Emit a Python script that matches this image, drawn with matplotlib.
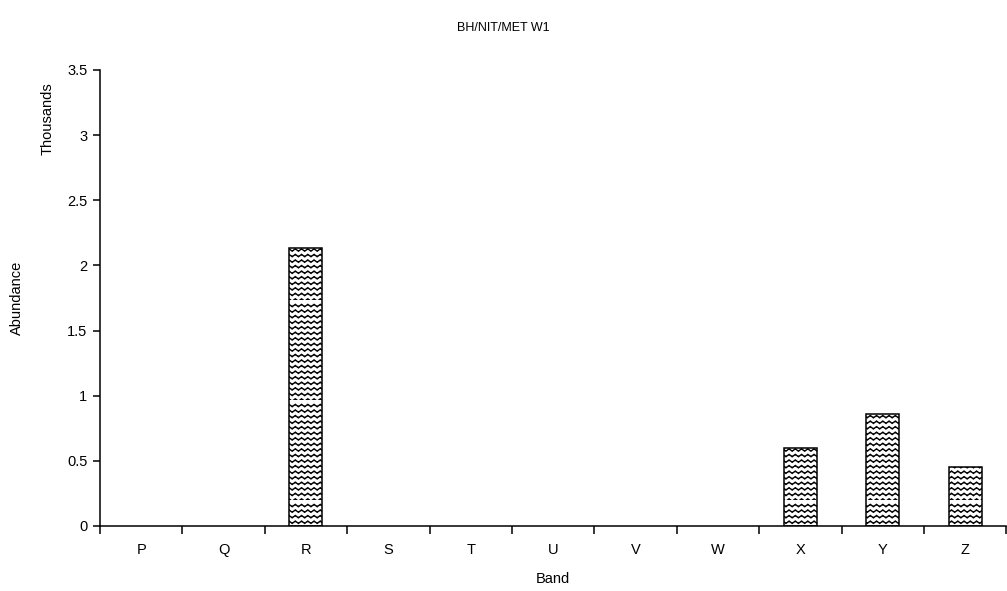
import warnings
import numpy as np
import matplotlib
matplotlib.use('Agg')
import matplotlib.pyplot as plt
import matplotlib.hatch as mhatch
from matplotlib.path import Path

warnings.filterwarnings('ignore')

plt.rcParams['font.family'] = ['Liberation Sans', 'DejaVu Sans']
plt.rcParams['hatch.linewidth'] = 1.0
plt.rcParams['hatch.color'] = '#333333'

bands = ['P', 'Q', 'R', 'S', 'T', 'U', 'V', 'W', 'X', 'Y', 'Z']
abundance = [0, 0, 2.13, 0, 0, 0, 0, 0, 0.60, 0.86, 0.45]  # thousands
yticks = [0, 0.5, 1, 1.5, 2, 2.5, 3, 3.5]
ytick_labels = ['0', '0.5', '1', '1.5', '2', '2.5', '3', '3.5']


class WaveHatch(mhatch.HatchPatternBase):
    """wavy horizontal lines, used with '~'"""
    def __init__(self, hatch, density):
        self.num_lines = int(hatch.count('~') * density)
        self.n_seg = 64
        self.num_vertices = self.num_lines * (self.n_seg + 1)

    def set_vertices_and_codes(self, vertices, codes):
        n = self.n_seg + 1
        xs = np.linspace(0, 1, n)
        for i, y0 in enumerate(np.linspace(0, 1, self.num_lines, endpoint=False)):
            vertices[i * n:(i + 1) * n, 0] = xs
            vertices[i * n:(i + 1) * n, 1] = y0 + 0.012 * np.sin(2 * np.pi * 16 * xs)
            codes[i * n] = Path.MOVETO
            codes[i * n + 1:(i + 1) * n] = Path.LINETO


mhatch._hatch_types.append(WaveHatch)

fig = plt.figure(figsize=(10.07, 5.91), dpi=100)
ax = fig.add_axes([0.0993, 0.110, 0.900, 0.7716])

x = np.arange(len(bands))
heights = np.array(abundance)
shown = heights > 0
ax.bar(x[shown], heights[shown], width=0.4, color='white', edgecolor='black',
       linewidth=1.1, hatch='~~~', zorder=2)

ax.set_xlim(-0.5, len(bands) - 0.5)
ax.set_ylim(0, 3.5)
ax.spines['top'].set_visible(False)
ax.spines['right'].set_visible(False)
ax.spines['left'].set_linewidth(1.1)
ax.spines['bottom'].set_linewidth(1.1)

# ticks at category boundaries, labels at centres
ax.set_xticks(np.arange(-0.5, len(bands)), labels=[''] * (len(bands) + 1))
ax.set_xticks(x, labels=bands, minor=True)
ax.tick_params(axis='x', which='major', direction='out', length=6, width=1.1)
ax.tick_params(axis='x', which='minor', length=0, pad=12, labelsize=10.5)
ax.set_yticks(yticks, labels=ytick_labels)
ax.tick_params(axis='y', direction='out', length=5, width=1.1, labelsize=10.5, pad=4)

ax.set_xlabel('Band', fontsize=10.5, labelpad=11)
fig.text(0.017, 0.496, 'Abundance', rotation=90, ha='center', va='center', fontsize=10.5)
fig.text(0.047, 0.80, 'Thousands', rotation=90, ha='center', va='center', fontsize=10.5)
fig.text(0.5, 0.952, 'BH/NIT/MET W1', ha='center', va='center', fontsize=9)

fig.savefig('out.png', dpi=100)
